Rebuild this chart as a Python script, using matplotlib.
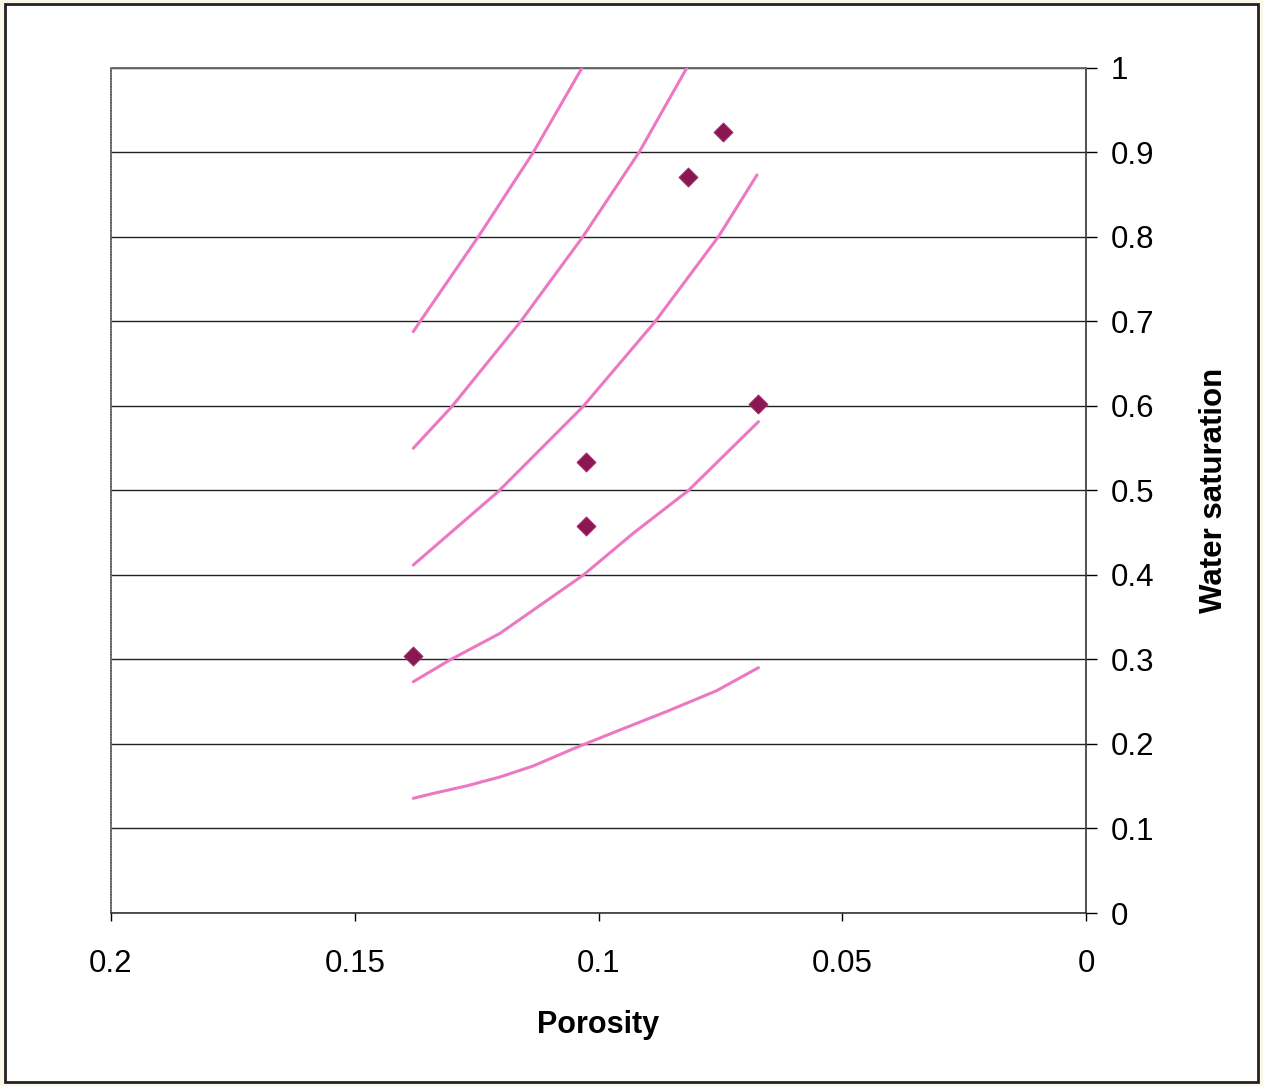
import matplotlib.pyplot as plt
from matplotlib.patches import Rectangle

plt.rcParams['font.family'] = ['Liberation Sans', 'DejaVu Sans']

# curves (porosity, water saturation)
c1_phi = [0.138, 0.1339, 0.127, 0.1202, 0.1134, 0.1045, 0.0963, 0.086, 0.0758, 0.0672]
c1_sw = [0.1357, 0.1415, 0.1505, 0.1610, 0.1740, 0.1960, 0.2150, 0.2385, 0.2630, 0.2903]
c2_phi = [0.138, 0.1305, 0.1202, 0.1031, 0.0929, 0.0816, 0.0672]
c2_sw = [0.2737, 0.2994, 0.331, 0.400, 0.4493, 0.4998, 0.5814]
c3_phi = [0.138, 0.1206, 0.1032, 0.0884, 0.0754, 0.0675]
c3_sw = [0.4118, 0.4986, 0.5992, 0.6998, 0.8004, 0.8734]
c4_phi = [0.138, 0.1301, 0.116, 0.1032, 0.0916, 0.0819]
c4_sw = [0.550, 0.5992, 0.6998, 0.8004, 0.901, 1.000]
c5_phi = [0.138, 0.1366, 0.1247, 0.1134, 0.1034]
c5_sw = [0.688, 0.700, 0.800, 0.900, 1.000]

# measured points
pts_phi = [0.138, 0.1026, 0.1026, 0.0816, 0.0745, 0.0673]
pts_sw = [0.304, 0.534, 0.458, 0.871, 0.924, 0.602]

xticks = [0.2, 0.15, 0.1, 0.05, 0]
yticks = [0, 0.1, 0.2, 0.3, 0.4, 0.5, 0.6, 0.7, 0.8, 0.9, 1]

fig = plt.figure(figsize=(12.63, 10.86), dpi=100)
fig.patch.set_facecolor('#fbf8e8')
fig.patches.append(Rectangle((0.004, 0.004), 0.992, 0.992, transform=fig.transFigure,
                             facecolor='white', edgecolor='#222222', linewidth=2, zorder=-5))

ax = fig.add_axes([0.0879, 0.1593, 0.772, 0.7781])
ax.set_zorder(2)
ax.set_facecolor('white')

line_col = '#ec78c4'
for px, sy in [(c1_phi, c1_sw), (c2_phi, c2_sw), (c3_phi, c3_sw), (c4_phi, c4_sw), (c5_phi, c5_sw)]:
    ax.plot(px, sy, color=line_col, linewidth=2.2, zorder=3,
            solid_capstyle='round', solid_joinstyle='round')

ax.scatter(pts_phi, pts_sw, marker='D', s=95, color='#8a1652', edgecolors='#a8306e',
           linewidths=0.6, zorder=4)

ax.set_xlim(0.2, 0)
ax.set_ylim(0, 1)
ax.set_xticks(xticks)
ax.set_xticklabels(['0.2', '0.15', '0.1', '0.05', '0'])
ax.set_yticks(yticks)
ax.set_yticklabels(['0', '0.1', '0.2', '0.3', '0.4', '0.5', '0.6', '0.7', '0.8', '0.9', '1'])

ax.yaxis.tick_right()
ax.yaxis.set_label_position('right')
ax.grid(axis='y', color='#222222', linewidth=1.0)
ax.set_axisbelow(True)

ax.tick_params(axis='x', direction='out', length=6, width=1, pad=20, labelsize=22.5)
ax.tick_params(axis='y', direction='out', length=8, width=1, pad=10, labelsize=22.5)

for side in ['left', 'top']:
    ax.spines[side].set_color('#666666')
    ax.spines[side].set_linestyle((0, (1, 0.6)))
    ax.spines[side].set_linewidth(1.2)
for side in ['right', 'bottom']:
    ax.spines[side].set_color('#333333')
    ax.spines[side].set_linewidth(1.2)

ax.set_xlabel('Porosity', fontsize=22, fontweight='bold', labelpad=22)
ax.set_ylabel('Water saturation', fontsize=22.5, fontweight='bold', labelpad=32)

fig.savefig('out.png', dpi=100, facecolor=fig.get_facecolor())
